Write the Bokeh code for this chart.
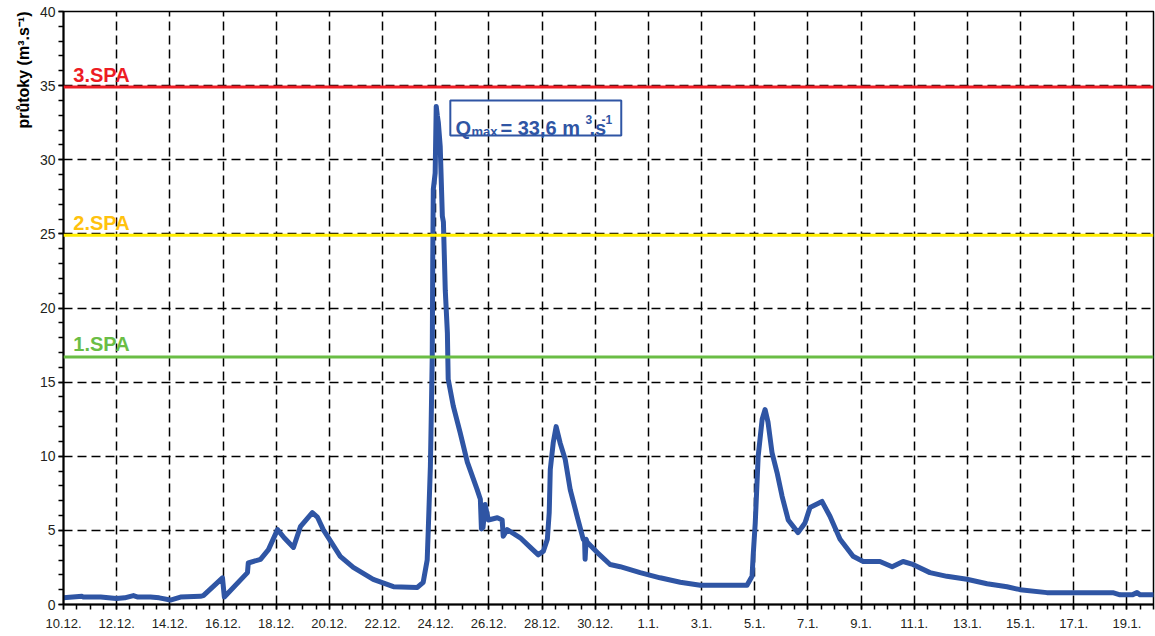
import math
from bokeh.plotting import figure
from bokeh.models import (Range1d, FixedTicker, Span, Label, BoxAnnotation, Title)
from bokeh.embed import file_html
from bokeh.resources import INLINE

# ---- data (days since 10.12.) ----
days = [0.00, 0.70, 0.75, 1.40, 1.99, 2.30, 2.63, 2.80, 3.27, 3.60, 4.02, 4.40,
        5.15, 5.26, 5.98, 6.05, 6.92, 6.95, 7.41, 7.71, 8.05, 8.30, 8.65, 8.91,
        9.36, 9.55, 9.77, 10.41, 10.90, 11.65, 12.41, 13.31, 13.53, 13.68, 13.72,
        13.80, 13.83, 13.87, 13.89, 13.91, 13.98, 14.02, 14.06, 14.10, 14.17,
        14.25, 14.29, 14.36, 14.44, 14.47, 14.66, 14.92, 15.19, 15.56, 15.68,
        15.72, 15.78, 15.86, 15.98, 16.32, 16.50, 16.54, 16.69, 17.18, 17.56,
        17.86, 18.05, 18.20, 18.27, 18.31, 18.42, 18.53, 18.68, 18.87, 19.06,
        19.32, 19.55, 19.60, 19.62, 19.66, 19.70, 20.08, 20.56, 20.94, 21.69,
        22.44, 23.20, 23.95, 25.71, 25.90, 25.94, 26.02, 26.13, 26.28, 26.39,
        26.50, 26.65, 26.84, 27.03, 27.26, 27.63, 27.89, 28.08, 28.53, 28.83,
        29.21, 29.70, 30.08, 30.71, 31.17, 31.58, 31.95, 32.59, 33.23, 33.98,
        34.74, 35.49, 35.98, 36.99, 39.47, 39.74, 40.20, 40.38, 40.50, 40.98]
flow = [0.45, 0.55, 0.50, 0.50, 0.40, 0.45, 0.60, 0.50, 0.50, 0.45, 0.30, 0.50,
        0.55, 0.60, 1.80, 0.50, 2.15, 2.80, 3.05, 3.70, 5.05, 4.50, 3.85, 5.25,
        6.20, 5.90, 5.05, 3.25, 2.50, 1.70, 1.20, 1.15, 1.50, 3.00, 5.00,
        9.30, 12.30, 16.70, 23.50, 28.00, 29.10, 33.60, 33.00, 32.50, 30.90,
        26.20, 25.80, 21.20, 18.30, 15.20, 13.40, 11.60, 9.60, 7.75, 7.10,
        5.10, 5.20, 6.75, 5.70, 5.85, 5.70, 4.60, 5.05, 4.50, 3.85,
        3.35, 3.60, 4.40, 6.20, 9.10, 10.90, 12.00, 10.90, 9.80, 7.75,
        5.95, 4.40, 4.30, 3.05, 4.40, 4.20, 3.50, 2.70, 2.55, 2.15,
        1.80, 1.50, 1.30, 1.30, 1.90, 3.25, 5.50, 10.00, 12.50, 13.15,
        12.30, 10.25, 8.90, 7.30, 5.70, 4.85, 5.50, 6.55, 6.95, 5.95,
        4.40, 3.25, 2.90, 2.90, 2.55, 2.90, 2.70, 2.15, 1.90, 1.70,
        1.40, 1.20, 1.00, 0.80, 0.80, 0.65, 0.65, 0.80, 0.65, 0.65]

tick_days = list(range(0, 41, 2))
tick_labels = ["10.12.", "12.12.", "14.12.", "16.12.", "18.12.", "20.12.", "22.12.",
               "24.12.", "26.12.", "28.12.", "30.12.", "1.1.", "3.1.", "5.1.",
               "7.1.", "9.1.", "11.1.", "13.1.", "15.1.", "17.1.", "19.1."]

spa_names = ["1.SPA", "2.SPA", "3.SPA"]
spa_levels = [16.7, 24.9, 34.9]
spa_line_colors = ["#6ABD45", "#FFED00", "#ED1C24"]
spa_text_colors = ["#6ABD45", "#FFC20E", "#ED1C24"]

q_max = "33,6"

BLUE = "#2F55A4"
FONT = "Liberation Sans"

p = figure(width=1155, height=636, output_backend="svg", toolbar_location=None,
           x_range=Range1d(0, 41), y_range=Range1d(0, 40),
           min_border_left=63, min_border_right=2, min_border_top=11,
           min_border_bottom=32)
p.background_fill_color = "white"
p.border_fill_color = "white"
p.outline_line_color = "black"
p.outline_line_width = 1.5

# axes
p.xaxis.ticker = FixedTicker(ticks=tick_days,
                             minor_ticks=[i * 0.5 for i in range(0, 83)])
p.xaxis.major_label_overrides = {d: l for d, l in zip(tick_days, tick_labels)}
p.yaxis.ticker = FixedTicker(ticks=list(range(0, 41, 5)),
                             minor_ticks=list(range(0, 41)))
for ax in (p.xaxis[0], p.yaxis[0]):
    ax.axis_line_color = "black"
    ax.axis_line_width = 2
    ax.major_tick_line_color = "black"
    ax.minor_tick_line_color = "black"
    ax.major_tick_line_width = 1.5
    ax.minor_tick_line_width = 1.5
    ax.major_tick_in = 0
    ax.minor_tick_in = 0
    ax.major_tick_out = 5
    ax.minor_tick_out = 5
    ax.major_label_text_font = FONT
    ax.major_label_text_color = "#231F20"
p.xaxis.major_label_text_font_size = "13px"
p.yaxis.major_label_text_font_size = "14px"
p.xaxis.major_label_standoff = 9
p.yaxis.major_label_standoff = 3

# grid
for g in (p.xgrid[0], p.ygrid[0]):
    g.grid_line_color = "black"
    g.grid_line_dash = "9 5"
    g.grid_line_width = 1.5
p.xgrid.ticker = FixedTicker(ticks=tick_days)
p.ygrid.ticker = FixedTicker(ticks=list(range(0, 41, 5)))

# SPA lines and labels
for name, lvl, lc, tc in zip(spa_names, spa_levels, spa_line_colors, spa_text_colors):
    p.add_layout(Span(location=lvl, dimension="width", line_color=lc, line_width=3))
    p.add_layout(Label(x=0.37, y=lvl + 0.85, text=name, text_color=tc,
                       text_font=FONT, text_font_style="bold", text_font_size="20px",
                       text_baseline="alphabetic"))

# hydrograph
p.line(days, flow, line_width=5, line_color=BLUE, line_join="round", line_cap="round")

# Q max annotation
p.add_layout(BoxAnnotation(left=14.55, right=20.98, bottom=31.64, top=34.0,
                           fill_color=None, fill_alpha=0, line_color=BLUE,
                           line_alpha=1.0, line_width=2))
lab = dict(x_units="screen", y_units="screen", text_color=BLUE, text_font=FONT,
           text_font_style="bold", text_baseline="alphabetic")
p.add_layout(Label(x=392, y=477, text="Q", text_font_size="20px", **lab))
p.add_layout(Label(x=408, y=473, text="max", text_font_size="13px", **lab))
p.add_layout(Label(x=437, y=477, text="= " + q_max + " m", text_font_size="20px", **lab))
p.add_layout(Label(x=522, y=485, text="3", text_font_size="12px", **lab))
p.add_layout(Label(x=526, y=477, text=".s", text_font_size="20px", **lab))
p.add_layout(Label(x=538, y=485, text="-1", text_font_size="12px", **lab))

# y axis title placed at top of the left side
p.add_layout(Title(text="průtoky (m³.s⁻¹)", align="right", text_font=FONT,
                   text_font_style="bold", text_font_size="16px",
                   text_color="black"), "left")

open("out.html", "w").write(file_html(p, INLINE))
